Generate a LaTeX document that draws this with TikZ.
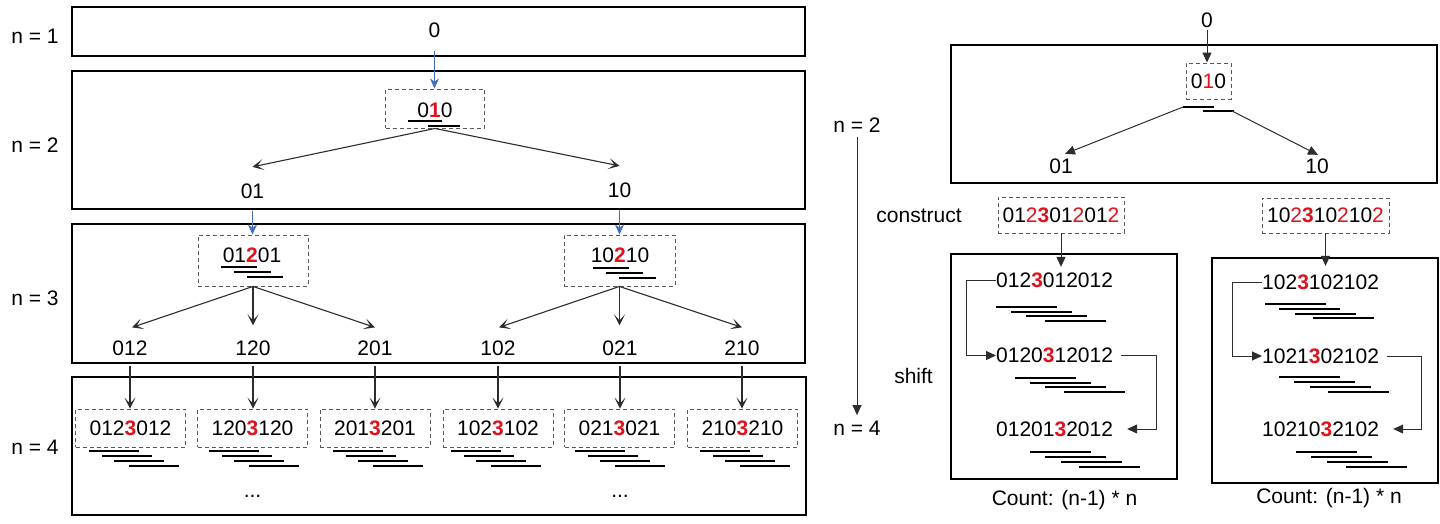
\documentclass[tikz,border=0pt]{standalone}
\usepackage{fontspec}
\setmainfont{Liberation Sans}
\usetikzlibrary{arrows.meta}
\definecolor{myred}{RGB}{220,20,30}
\definecolor{myblue}{RGB}{68,110,190}
\definecolor{dgray}{RGB}{45,45,45}
\newcommand{\redb}[1]{\textcolor{myred}{\textbf{#1}}}
\newcommand{\redn}[1]{\textcolor{myred}{#1}}
\begin{document}
\begin{tikzpicture}[x=1pt,y=-1pt,
 every node/.style={font=\fontsize{21}{25}\selectfont, inner sep=0pt},
 bigbox/.style={draw=black, line width=2pt},
 dbox/.style={draw=black!65, dash pattern=on 4pt off 3pt, line width=0.9pt},
 uline/.style={line width=2.2pt, black},
 blarrow/.style={draw=myblue, line width=1.1pt, -{Stealth[length=10pt,width=9pt,inset=3pt]}},
 tarrow/.style={draw=dgray, line width=1.1pt, -{Stealth[length=11pt,width=11pt,inset=6pt]}},
 farrow/.style={draw=dgray, line width=1pt, -{Triangle[length=10pt,width=9pt]}},
]
\useasboundingbox[fill=white] (0,0) rectangle (1440,523);

% ---------------- left part ----------------
\draw[bigbox] (72,7) rectangle (805,56);
\draw[bigbox] (72,71) rectangle (805,209);
\draw[bigbox] (72,224) rectangle (805,363);
\draw[bigbox] (72,377) rectangle (806,515);

\node (n1) at (35,36) {n = 1};
\node (n2) at (35,145) {n = 2};
\node (n3) at (35,298) {n = 3};
\node (n4) at (35,447) {n = 4};

% n = 1 / n = 2
\node (t0) at (434.5,30) {0};
\node[dbox, minimum width=99, minimum height=39] (d010) at (435,108.5) {};
\node (t010) at (435,110) {0\redb{1}0};
\draw[uline] (408,121) -- (442,121);
\draw[uline] (428,126) -- (460,126);
\draw[blarrow] ([yshift=-13pt]t0.south) -- (t0.south |- d010.north);

\node (l01) at (252.5,191.5) {01};
\node (l10) at (619.5,190.5) {10};
\draw[tarrow] (d010.south) -- ([yshift=17pt]l01.north);
\draw[tarrow] (d010.south) -- ([yshift=17pt]l10.north);

% n = 3
\node[dbox, minimum width=110, minimum height=51] (d01201) at (253,260.5) {};
\node (t01201) at (252,255) {01\redb{2}01};
\draw[uline] (221,267) -- (257,267);
\draw[uline] (234,272) -- (271,272);
\draw[uline] (247,277) -- (283,277);
\node[dbox, minimum width=111, minimum height=51] (d10210) at (619.5,260.5) {};
\node (t10210) at (620,255) {10\redb{2}10};
\draw[uline] (593,268) -- (629,268);
\draw[uline] (606,273) -- (643,273);
\draw[uline] (619,278) -- (656,278);
\draw[blarrow] ([yshift=-12pt]l01.south) -- (l01.south |- d01201.north);
\draw[blarrow] ([yshift=-12pt]l10.south) -- (l10.south |- d10210.north);

\node (l012) at (130,348) {012};
\node (l120) at (253,348) {120};
\node (l201) at (375,348) {201};
\node (l102) at (498,348) {102};
\node (l021) at (620,348) {021};
\node (l210) at (742,348) {210};
\draw[tarrow] (d01201.south) -- ([xshift=2pt,yshift=13pt]l012.north);
\draw[tarrow] (d01201.south) -- ([yshift=15pt]d01201.south |- l120.north);
\draw[tarrow] (d01201.south) -- ([yshift=13pt]l201.north);
\draw[tarrow] (d10210.south) -- ([xshift=1pt,yshift=13pt]l102.north);
\draw[tarrow] (d10210.south) -- ([yshift=15pt]d10210.south |- l021.north);
\draw[tarrow] (d10210.south) -- ([yshift=13pt]l210.north);

% n = 4
\node[dbox, minimum width=110, minimum height=38] (e1) at (130.5,428) {012\redb{3}012};
\node[dbox, minimum width=110, minimum height=38] (e2) at (252.5,428) {120\redb{3}120};
\node[dbox, minimum width=110, minimum height=38] (e3) at (375,428) {201\redb{3}201};
\node[dbox, minimum width=110, minimum height=38] (e4) at (498,428) {102\redb{3}102};
\node[dbox, minimum width=110, minimum height=38] (e5) at (619.5,428) {021\redb{3}021};
\node[dbox, minimum width=110, minimum height=38] (e6) at (742.5,428) {210\redb{3}210};
\draw[tarrow] ([yshift=-10.5pt]l012.south) -- (l012.south |- e1.north);
\draw[tarrow] ([yshift=-10.5pt]l120.south) -- (l120.south |- e2.north);
\draw[tarrow] ([yshift=-10.5pt]l201.south) -- (l201.south |- e3.north);
\draw[tarrow] ([yshift=-10.5pt]l102.south) -- (l102.south |- e4.north);
\draw[tarrow] ([yshift=-10.5pt]l021.south) -- (l021.south |- e5.north);
\draw[tarrow] ([yshift=-10.5pt]l210.south) -- (l210.south |- e6.north);
\foreach \s in {89,209,333,451,575,700}{
  \draw[uline] (\s,451) -- ++(50,0);
  \draw[uline] (\s+13,456) -- ++(50,0);
  \draw[uline] (\s+25,461) -- ++(50,0);
  \draw[uline] (\s+40,466) -- ++(50,0);
}
\node[anchor=base] (dots1) at (252.5,497) {...};
\node[anchor=base] (dots2) at (620,497) {...};

% ---------------- middle ----------------
\node (mn2) at (857,125.5) {n = 2};
\node (mn4) at (857,428.5) {n = 4};
\draw[farrow, line width=0.8pt] ([yshift=-4pt]mn2.south) -- ([yshift=6pt]mn4.north);
\node (cons) at (919,216) {construct};
\node (lshift) at (913.5,375.5) {shift};

% ---------------- right top ----------------
\node (r0) at (1207,20) {0};
\draw[bigbox] (951,45) rectangle (1437,183);
\node[dbox, minimum width=45, minimum height=36] (rd010) at (1208.5,81) {0\redn{1}0};
\draw[farrow] ([yshift=-2pt]r0.south) -- (r0.south |- rd010.north);
\coordinate (ru1) at (1183,107);
\coordinate (ru2) at (1232,111);
\draw[uline] (ru1) -- (1214,107);
\draw[uline] (1203,111) -- (1234,111);
\node (r01) at (1061,166) {01};
\node (r10) at (1317,166) {10};
\draw[farrow] (ru1) -- ([xshift=4pt,yshift=4.5pt]r01.north);
\draw[farrow] (ru2) -- ([xshift=1pt,yshift=3.5pt]r10.north);

% ---------------- right bottom A ----------------
\node[dbox, minimum width=126, minimum height=36] (rc1) at (1061,215) {01\redn{2}\redb{3}01\redn{2}01\redn{2}};
\draw[bigbox] (951,254) rectangle (1177,479);
\node[anchor=west] (rt1) at (996,280.5) {012\redb{3}012012};
\node[anchor=west] (rt2) at (996,355.5) {0120\redb{3}12012};
\node[anchor=west] (rt3) at (996,429) {01201\redb{3}2012};
\draw[farrow] (rc1.south) -- ([yshift=6pt]rc1.south |- rt1.north);
\draw[uline] (996,307) -- ++(61,0);
\draw[uline] (1011,311.7) -- ++(61,0);
\draw[uline] (1026,316.3) -- ++(61,0);
\draw[uline] (1045,321) -- ++(61,0);
\draw[uline] (1015,378) -- ++(61,0);
\draw[uline] (1030,382.7) -- ++(61,0);
\draw[uline] (1045,387.3) -- ++(61,0);
\draw[uline] (1064,392) -- ++(61,0);
\draw[uline] (1030,452) -- ++(61,0);
\draw[uline] (1045,457) -- ++(61,0);
\draw[uline] (1061,462) -- ++(61,0);
\draw[uline] (1079,467) -- ++(61,0);
\draw[farrow] (rt1.west) -- ++(-30,0) |- (rt2.west);
\draw[farrow] ([xshift=8pt]rt2.east) -- ++(35,0) |- ([xshift=14pt]rt3.east);
\node[anchor=base] (cnt1) at (1064.5,505) {Count: (n-1) * n};

% ---------------- right bottom B ----------------
\node[dbox, minimum width=127, minimum height=35] (rc2) at (1325.5,215.5) {10\redn{2}\redb{3}10\redn{2}10\redn{2}};
\draw[bigbox] (1212,258) rectangle (1438,483);
\node[anchor=west] (rs1) at (1262,282) {102\redb{3}102102};
\node[anchor=west] (rs2) at (1262,356) {1021\redb{3}02102};
\node[anchor=west] (rs3) at (1262,429) {10210\redb{3}2102};
\draw[farrow] (rc2.south) -- ([yshift=8.5pt]rc2.south |- rs1.north);
\draw[uline] (1265,304) -- ++(61,0);
\draw[uline] (1279,309) -- ++(61,0);
\draw[uline] (1295,314) -- ++(61,0);
\draw[uline] (1313,318) -- ++(61,0);
\draw[uline] (1279,377) -- ++(61,0);
\draw[uline] (1294,382) -- ++(61,0);
\draw[uline] (1310,387) -- ++(61,0);
\draw[uline] (1328,392) -- ++(61,0);
\draw[uline] (1296,452) -- ++(61,0);
\draw[uline] (1311,457) -- ++(61,0);
\draw[uline] (1327,462) -- ++(61,0);
\draw[uline] (1346,467) -- ++(61,0);
\draw[farrow] (rs1.west) -- ++(-30,0) |- (rs2.west);
\draw[farrow] ([xshift=8pt]rs2.east) -- ++(34,0) |- ([xshift=14pt]rs3.east);
\node[anchor=base] (cnt2) at (1329,503) {Count: (n-1) * n};
\end{tikzpicture}
\end{document}
